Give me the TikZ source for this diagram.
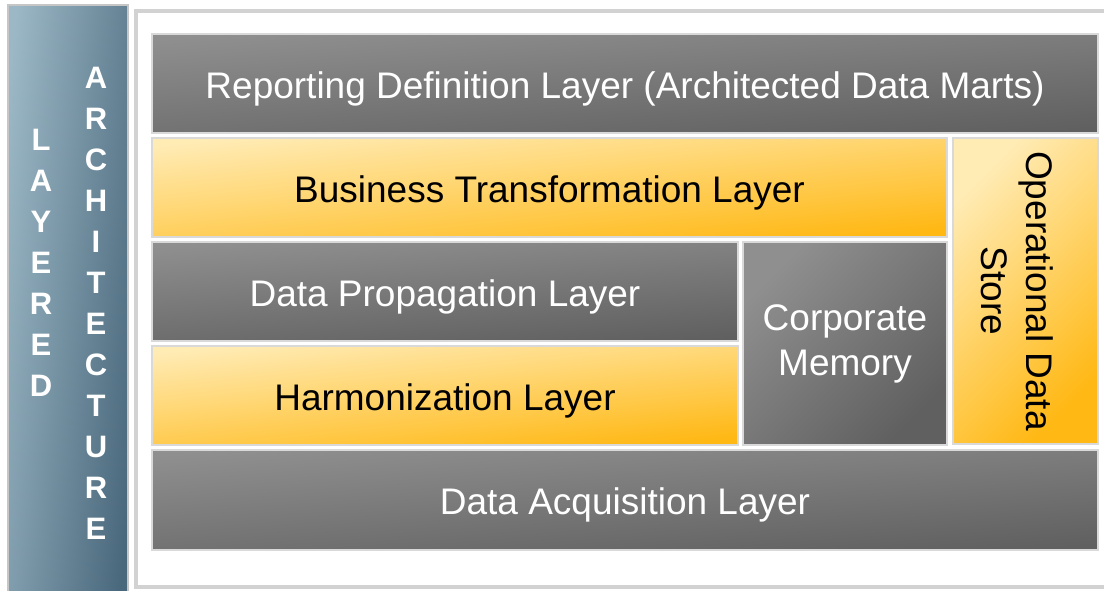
\documentclass[tikz,border=0pt]{standalone}
\usepackage{fontspec}
\setmainfont{Liberation Sans}
\definecolor{edgegray}{HTML}{D9D9D9}
\definecolor{framegray}{HTML}{D2D2D2}
\definecolor{barborder}{HTML}{C6C6C6}
\definecolor{graytop}{HTML}{8F8F8F}
\definecolor{graybot}{HTML}{606060}
\definecolor{ambertop}{HTML}{FFEBB4}
\definecolor{amberbot}{HTML}{FFB814}
\definecolor{bartop}{HTML}{9CB8C6}
\definecolor{barbot}{HTML}{4A687C}

\begin{document}
\begin{tikzpicture}[x=1pt,y=-1pt,
        layer/.style={draw=edgegray,line width=2pt,inner sep=0pt,
            font=\fontsize{37}{45}\selectfont},
        darklayer/.style={layer,top color=graytop,bottom color=graybot,
            shading angle=4,text=white},
        amberlayer/.style={layer,top color=ambertop,bottom color=amberbot,
            shading angle=6,text=black},
        oneline/.style={text height=29pt,text depth=0pt},
        barletters/.style={align=center,text=white,
            font=\fontsize{31}{41}\selectfont\bfseries}]
    \useasboundingbox (0,0) rectangle (1104,590);
    \draw[framegray,line width=4pt,fill=white] (135.5,10.5) rectangle (1120,587);
    \draw[barborder,line width=2pt,top color=bartop,bottom color=barbot,shading angle=84]
        (8,5) rectangle (127.5,600);
    \node[barletters] (layered) at (41,262.5) {L\\A\\Y\\E\\R\\E\\D};
    \node[barletters] (architecture) at (96,303) {A\\R\\C\\H\\I\\T\\E\\C\\T\\U\\R\\E};
    \node[darklayer,oneline,minimum width=946pt,minimum height=99pt] (rdl) at (625,83.5)
        {Reporting Definition Layer (Architected Data Marts)};
    \node[amberlayer,oneline,minimum width=795pt,minimum height=99pt] (btl) at (549.5,187.5)
        {Business Transformation Layer};
    \node[amberlayer,shading angle=45,minimum width=145pt,minimum height=306pt] (ods)
        at (1025.5,291) {};
    \node[darklayer,oneline,minimum width=586pt,minimum height=99pt] (dpl) at (445,291.5)
        {Data Propagation Layer};
    \node[amberlayer,oneline,minimum width=586pt,minimum height=99pt] (hl) at (445,395.5)
        {Harmonization Layer};
    \node[darklayer,shading angle=45,align=center,minimum width=204pt,minimum height=203pt]
        (cm) at (845,343.5) {Corporate\\Memory};
    \node[darklayer,oneline,minimum width=946pt,minimum height=100pt] (dal) at (625,500)
        {Data Acquisition Layer};
    \node[rotate=-90,align=center,font=\fontsize{37}{45}\selectfont] (odslabel)
        at ([xshift=-8pt]ods.center) {Operational Data\\Store};
\end{tikzpicture}
\end{document}
